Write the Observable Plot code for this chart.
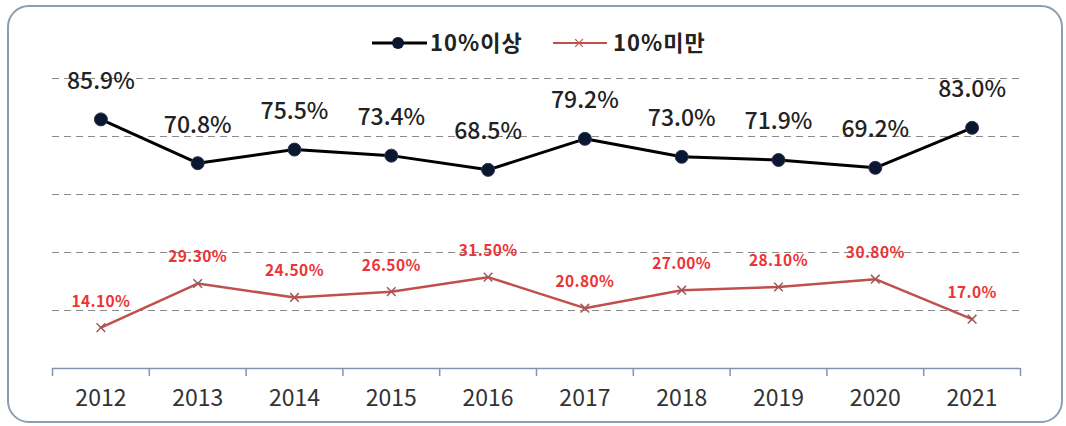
<!DOCTYPE html>
<html>
<head>
<meta charset="utf-8">
<script src="https://cdn.jsdelivr.net/npm/d3@7"></script>
<script src="https://cdn.jsdelivr.net/npm/@observablehq/plot@0.6"></script>
<style>
  html, body { margin: 0; padding: 0; background: #ffffff; }
  #wrap { position: relative; width: 1066px; height: 426px; overflow: hidden; background: #fff;
          font-family: "Noto Sans CJK KR", "Noto Sans", sans-serif; }
  #frame { position: absolute; left: 7px; top: 5px; width: 1052px; height: 414px;
           border: 2px solid #8c9db3; border-radius: 22px; pointer-events: none; }
  #legend { position: absolute; left: 0; top: 21px; width: 1066px; height: 44px; overflow: visible; }
  #chart { position: absolute; left: 0; top: 0; }
  .redlbl text { letter-spacing: 0.4px; }
</style>
</head>
<body>
<div id="wrap">
  <div id="chart"></div>
  <svg id="legend" width="1066" height="44"></svg>
  <div id="frame"></div>
</div>
<script>
const years = [2012, 2013, 2014, 2015, 2016, 2017, 2018, 2019, 2020, 2021];
const seriesNames = ["10%이상", "10%미만"];
const above10 = [85.9, 70.8, 75.5, 73.4, 68.5, 79.2, 73.0, 71.9, 69.2, 83.0];
const below10 = [14.1, 29.3, 24.5, 26.5, 31.5, 20.8, 27.0, 28.1, 30.8, 17.0];
const above10Labels = ["85.9%", "70.8%", "75.5%", "73.4%", "68.5%", "79.2%", "73.0%", "71.9%", "69.2%", "83.0%"];
const below10Labels = ["14.10%", "29.30%", "24.50%", "26.50%", "31.50%", "20.80%", "27.00%", "28.10%", "30.80%", "17.0%"];
const gridTicks = [20, 40, 60, 80, 100];

const blackData = years.map((y, i) => ({year: y, value: above10[i], label: above10Labels[i]}));
const redData = years.map((y, i) => ({year: y, value: below10[i], label: below10Labels[i]}));
const xMin = years[0] - 0.5, xMax = years[years.length - 1] + 0.5;
const boundaries = [...years.map(y => y - 0.5), xMax];

const font = "'Noto Sans CJK KR', 'Noto Sans', sans-serif";

const chart = Plot.plot({
  width: 1066,
  height: 426,
  marginLeft: 52,
  marginRight: 46,
  marginTop: 78,
  marginBottom: 58,
  style: {fontFamily: font, background: "transparent"},
  x: {type: "linear", domain: [xMin, xMax], axis: null},
  y: {domain: [0, 100], axis: null},
  marks: [
    Plot.ruleY(gridTicks, {x1: xMin, x2: xMax, stroke: "#8a8a8a", strokeWidth: 1, strokeDasharray: "7,5"}),
    Plot.ruleY([0], {x1: xMin, x2: xMax, stroke: "#8592b0", strokeWidth: 1.5}),
    Plot.axisX(boundaries, {tickSize: 8, tickFormat: () => "", label: null, stroke: "#8592b0", strokeWidth: 1.5}),
    Plot.text(years, {x: d => d, frameAnchor: "bottom", dy: 37, text: d => String(d), fontSize: 23, fill: "#333"}),
    Plot.line(redData, {x: "year", y: "value", stroke: "#c0504d", strokeWidth: 2.5}),
    Plot.dot(redData, {x: "year", y: "value", symbol: "times", r: 4, stroke: "#a05858", strokeWidth: 1.5}),
    Plot.text(redData, {x: "year", y: "value", text: "label", dy: -26, fontSize: 15.5, fontWeight: "bold", fill: "#ec3434", className: "redlbl"}),
    Plot.line(blackData, {x: "year", y: "value", stroke: "#000", strokeWidth: 3}),
    Plot.dot(blackData, {x: "year", y: "value", r: 6.5, fill: "#0b1630", stroke: "#2a3550", strokeWidth: 1}),
    Plot.text(blackData, {x: "year", y: "value", text: "label", dy: -38, fontSize: 23, fontWeight: 500, fill: "#222"})
  ]
});
document.getElementById("chart").appendChild(chart);

// legend
const lg = d3.select("#legend");
const cy = 22;
lg.append("line").attr("x1", 372).attr("x2", 427).attr("y1", cy).attr("y2", cy).attr("stroke", "#000").attr("stroke-width", 3);
lg.append("circle").attr("cx", 398).attr("cy", cy).attr("r", 6).attr("fill", "#0b1630");
lg.append("text").attr("x", 430).attr("y", cy).attr("dy", "0.35em").attr("font-family", font).attr("font-size", 22).attr("font-weight", "bold").attr("letter-spacing", "1px").attr("fill", "#222").text(seriesNames[0]);
lg.append("line").attr("x1", 553).attr("x2", 607).attr("y1", cy).attr("y2", cy).attr("stroke", "#c0504d").attr("stroke-width", 2);
lg.append("path").attr("d", d3.symbol(d3.symbolTimes, 40)()).attr("transform", `translate(579,${cy})`).attr("stroke", "#c0504d").attr("stroke-width", 1.2);
lg.append("text").attr("x", 613).attr("y", cy).attr("dy", "0.35em").attr("font-family", font).attr("font-size", 22).attr("font-weight", "bold").attr("letter-spacing", "1px").attr("fill", "#222").text(seriesNames[1]);
</script>
</body>
</html>
